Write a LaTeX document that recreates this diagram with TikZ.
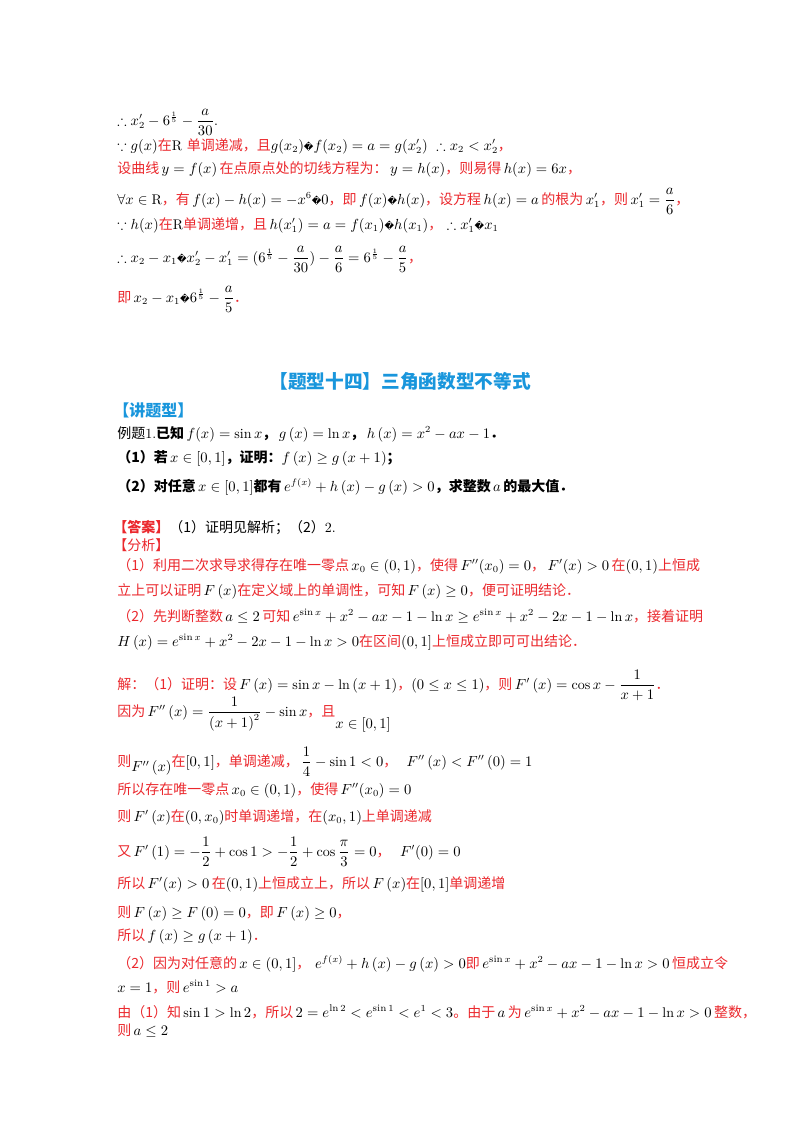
\documentclass[tikz,border=0pt]{standalone}
\usepackage{amsmath,amssymb}
\usepackage{fontspec}
\newfontfamily\cjk{Noto Sans CJK SC}
\newfontfamily\dvs{DejaVu Sans}
\definecolor{rd}{RGB}{235,40,45}
\definecolor{bl}{RGB}{25,150,220}
\newcommand{\zh}[1]{{\cjk\color{rd}#1}}
\newcommand{\zb}[1]{{\cjk\bfseries #1}}
\newcommand{\qq}{{\dvs\scriptsize\char"FFFD}}
\begin{document}
\begin{tikzpicture}[x=0.75pt,y=-0.75pt,L/.style={anchor=base west,inner sep=0pt,font=\fontsize{10.5}{12}\selectfont}]
\useasboundingbox (0,0) rectangle (800,1132);
\fill[white] (0,0) rectangle (800,1132);
\node[L] (l1) at (117,125) {$\therefore x_2'-6^{\frac15}-\dfrac{a}{30}$.};
\node[L] (l2) at (117,150) {$\because g(x)$\zh{在}R \zh{单调递减，且}$g(x_2)$\qq$f(x_2)=a=g(x_2')\ \therefore x_2<x_2'$\zh{，}};
\node[L] (l3) at (117,173) {\zh{设曲线}$\,y=f(x)\,$\zh{在点原点处的切线方程为：}$\,y=h(x)$\zh{，则易得}$\,h(x)=6x$\zh{，}};
\node[L] (l4) at (117,204) {$\forall x\in\mathrm R$\zh{，有}$\,f(x)-h(x)=-x^6$\qq$0$\zh{，即}$\,f(x)$\qq$h(x)$\zh{，设方程}$\,h(x)=a\,$\zh{的根为}$\,x_1'$\zh{，则}$\,x_1'=\dfrac a6$\zh{，}};
\node[L] (l5) at (117,229) {$\because h(x)$\zh{在}R\zh{单调递增，且}$\,h(x_1')=a=f(x_1)$\qq$h(x_1)$\zh{，}$\ \therefore x_1'$\qq$x_1$};
\node[L] (l6) at (117,262) {$\therefore x_2-x_1$\qq$x_2'-x_1'=(6^{\frac15}-\dfrac{a}{30})-\dfrac a6=6^{\frac15}-\dfrac a5$\zh{，}};
\node[L] (l7) at (117,302) {\zh{即}$\,x_2-x_1$\qq$6^{\frac15}-\dfrac a5$\zh{．}};
\node[anchor=base,inner sep=0pt,font=\fontsize{14}{16}\selectfont\cjk\bfseries,text=bl] (t) at (400,388) {【题型十四】三角函数型不等式};
\node[L,font=\fontsize{12}{14}\selectfont\cjk\bfseries,text=bl] (k) at (113,416) {【讲题型】};
\node[L] (e1) at (117,438) {{\cjk 例题}1.\zb{已知}$\,f(x)=\sin x$\zb{，}$\,g\left(x\right)=\ln x$\zb{，}$\,h\left(x\right)=x^2-ax-1$\zb{．}};
\node[L] (e2) at (117,462) {\zb{（1）若}$\,x\in\left[0,1\right]$\zb{，证明：}$f\left(x\right)\ge g\left(x+1\right)$\zb{；}};
\node[L] (e3) at (117,491) {\zb{（2）对任意}$\,x\in\left[0,1\right]$\zb{都有}$\,e^{f(x)}+h\left(x\right)-g\left(x\right)>0$\zb{，求整数}$\,a\,$\zb{的最大值．}};
\node[L] (a1) at (113,532) {{\cjk\bfseries\color{rd}【答案】}{\cjk（1）证明见解析；（2）}2.};
\node[L] (a2) at (113,550) {{\cjk\color{rd}【分析】}};
\node[L] (a3) at (117,570) {\zh{（1）利用二次求导求得存在唯一零点}$\,x_0\in\left(0,1\right)$\zh{，使得}$\,F''(x_0)=0$\zh{，}$\,F'(x)>0\,$\zh{在}$\left(0,1\right)$\zh{上恒成}};
\node[L] (a4) at (117,595) {\zh{立上可以证明}$\,F\left(x\right)$\zh{在定义域上的单调性，可知}$\,F\left(x\right)\ge0$\zh{，便可证明结论．}};
\node[L] (a5) at (117,621) {\zh{（2）先判断整数}$\,a\le2\,$\zh{可知}$\,e^{\sin x}+x^2-ax-1-\ln x\ge e^{\sin x}+x^2-2x-1-\ln x$\zh{，接着证明}};
\node[L] (a6) at (117,646) {$H\left(x\right)=e^{\sin x}+x^2-2x-1-\ln x>0$\zh{在区间}$(0,1]$\zh{上恒成立即可可出结论．}};
\node[L] (s1) at (117,689) {\zh{解：（1）证明：设}$\,F\left(x\right)=\sin x-\ln\left(x+1\right)$\zh{，}$\left(0\le x\le1\right)$\zh{，则}$\,F'\left(x\right)=\cos x-\dfrac{1}{x+1}$\zh{．}};
\node[L] (s2) at (117,716) {\zh{因为}$\,F''\left(x\right)=\dfrac{1}{\left(x+1\right)^2}-\sin x$\zh{，且}$\raisebox{-9pt}{$x\in[0,1]$}$};
\node[L] (s3) at (117,766) {\zh{则}$\raisebox{-4pt}{$F''\left(x\right)$}$\zh{在}$\left[0,1\right]$\zh{，单调递减，}$\,\dfrac14-\sin1<0$\zh{，}$\ \ F''\left(x\right)<F''\left(0\right)=1$};
\node[L] (s4) at (117,794) {\zh{所以存在唯一零点}$\,x_0\in\left(0,1\right)$\zh{，使得}$\,F''(x_0)=0$};
\node[L] (s5) at (117,821) {\zh{则}$\,F'\left(x\right)$\zh{在}$\left(0,x_0\right)$\zh{时单调递增，在}$(x_0,1)$\zh{上单调递减}};
\node[L] (s6) at (117,856) {\zh{又}$\,F'\left(1\right)=-\dfrac12+\cos1>-\dfrac12+\cos\dfrac\pi3=0$\zh{，}$\ \ F'(0)=0$};
\node[L] (s7) at (117,888) {\zh{所以}$\,F'(x)>0\,$\zh{在}$\left(0,1\right)$\zh{上恒成立上，所以}$\,F\left(x\right)$\zh{在}$[0,1]$\zh{单调递增}};
\node[L] (s8) at (117,917) {\zh{则}$\,F\left(x\right)\ge F\left(0\right)=0$\zh{，即}$\,F\left(x\right)\ge0$\zh{，}};
\node[L] (s9) at (117,940) {\zh{所以}$\,f\left(x\right)\ge g\left(x+1\right)$\zh{．}};
\node[L] (s10) at (117,968) {\zh{（2）因为对任意的}$\,x\in\left(0,1\right]$\zh{，}$\ e^{f(x)}+h\left(x\right)-g\left(x\right)>0$\zh{即}$\,e^{\sin x}+x^2-ax-1-\ln x>0\,$\zh{恒成立令}};
\node[L] (s11) at (117,992) {$x=1$\zh{，则}$\,e^{\sin1}>a$};
\node[L] (s12) at (117,1017) {\zh{由（1）知}$\,\sin1>\ln2$\zh{，所以}$\,2=e^{\ln2}<e^{\sin1}<e^1<3$\zh{。由于}$\,a\,$\zh{为}$\,e^{\sin x}+x^2-ax-1-\ln x>0\,$\zh{整数，}};
\node[L] (s13) at (117,1035) {\zh{则}$\,a\le2$};
\end{tikzpicture}
\end{document}
